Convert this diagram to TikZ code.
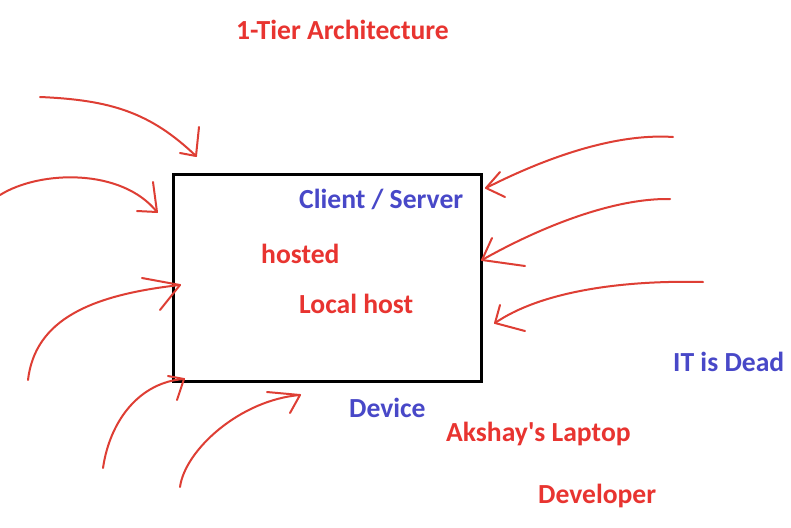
\documentclass[tikz,border=0pt]{standalone}
\usepackage{fontspec}
\setmainfont{Carlito}
\definecolor{inkred}{RGB}{232,52,48}
\definecolor{penred}{RGB}{222,62,52}
\definecolor{inkblue}{RGB}{72,72,200}
\begin{document}
\begin{tikzpicture}[x=1pt,y=-1pt,
  lbl/.style={anchor=base west,inner sep=0pt,font=\fontsize{27.6}{32}\selectfont\bfseries},
  redlbl/.style={lbl,text=inkred},
  bluelbl/.style={lbl,text=inkblue},
  pen/.style={draw=penred,line width=2pt,line cap=round,line join=round},
  boxst/.style={draw=black,line width=3.2pt}]
\useasboundingbox (0,0) rectangle (791,527);
\fill[white] (0,0) rectangle (791,527);

% the box
\node[boxst,inner sep=0pt,minimum width=308pt,minimum height=207pt,anchor=north west] (box) at (172,173) {};

% labels
\node[redlbl]  (title) at (236,40)  {1-Tier Architecture};
\node[bluelbl] (cs)    at (299,208) {Client / Server};
\node[redlbl]  (hst)   at (261,263) {hosted};
\node[redlbl]  (lh)    at (299,313) {Local host};
\node[bluelbl] (dead)  at (673,371) {IT is Dead};
\node[bluelbl] (dev)   at (349,417) {Device};
\node[redlbl]  (lap)   at (446,441) {Akshay\textquotesingle s Laptop};
\node[redlbl]  (devl)  at (538,503) {Developer};

% arrow end points
\coordinate (a0) at (40,97);   \coordinate (a1) at (196,156);
\coordinate (b0) at (0,195);   \coordinate (b1) at (157,212);
\coordinate (c0) at (28,380);  \coordinate (c1) at (180,285);
\coordinate (d0) at (103,468); \coordinate (d1) at (184,379);
\coordinate (e0) at (180,487); \coordinate (e1) at (300,395);
\coordinate (f0) at (673,137); \coordinate (f1) at (486,188);
\coordinate (g0) at (670,199); \coordinate (g1) at (482,260);
\coordinate (h0) at (703,282); \coordinate (h1) at (495,323);

% shafts
\draw[pen] (a0) .. controls (110,100) and (150,112) .. (a1);
\draw[pen] (b0) .. controls (40,170) and (122,168) .. (b1);
\draw[pen] (c0) .. controls (35,320) and (90,295) .. (c1);
\draw[pen] (d0) .. controls (110,420) and (140,382) .. (d1);
\draw[pen] (e0) .. controls (185,450) and (240,400) .. (e1);
\draw[pen] (f0) .. controls (615,133) and (545,158) .. (f1);
\draw[pen] (g0) .. controls (610,198) and (535,230) .. (g1);
\draw[pen] (h0) .. controls (620,280) and (540,292) .. (h1);

% heads
\draw[pen] (180,153) -- (a1) -- (199,127);
\draw[pen] (137,211) -- (b1) -- (153,182);
\draw[pen] (142,278) -- (c1) -- (160,310);
\draw[pen] (168,376) -- (d1) -- (177,400);
\draw[pen] (267,392) -- (e1) -- (290,413);
\draw[pen] (500,172) -- (f1) -- (505,197);
\draw[pen] (492,238) -- (g1) -- (525,266);
\draw[pen] (500,305) -- (h1) -- (525,331);
\end{tikzpicture}
\end{document}
